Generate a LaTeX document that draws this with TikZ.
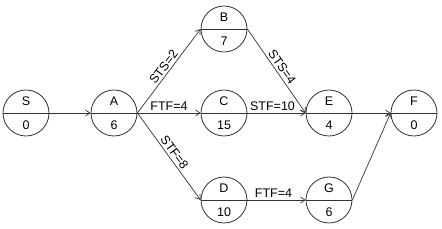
\documentclass[tikz,border=0pt]{standalone}
\usepackage{fontspec}
\setmainfont{Liberation Sans}
\usetikzlibrary{arrows.meta}
\definecolor{ln}{HTML}{333333}
\begin{document}
\begin{tikzpicture}[x=1pt,y=-1pt,
  ev/.style={circle,draw=ln,line width=0.8pt,minimum size=46pt,inner sep=0pt},
  txt/.style={font=\fontsize{12.5}{14}\selectfont,text=black,inner sep=0pt},
  dep/.style={draw=ln,line width=0.7pt,-{Straight Barb[length=4.5pt,width=6pt]}},
  lab/.style={font=\fontsize{12.5}{14}\selectfont,text=black,inner sep=2pt,midway,above}]
\useasboundingbox (0,0) rectangle (442,229);
\foreach \n/\x/\y/\t/\d in {S/26/113/S/0, A/114/113/A/6, B/224/29/B/7, C/224/113/C/15,
  D/224/200/D/10, E/329/113/E/4, G/329/200/G/6, F/414/113/F/0}{
  \node[ev] (\n) at (\x,\y) {};
  \draw[ln,line width=0.8pt] (\n.west) -- (\n.east);
  \node[txt] (\n t) at ([yshift=11.5pt]\n.center) {\t};
  \node[txt] (\n d) at ([yshift=-12.5pt]\n.center) {\d};
}
\draw[dep] (S.east) -- (A.west);
\draw[dep] (A.east) -- node[lab,sloped] {STS=2} (B.west);
\draw[dep] (A.east) -- node[lab] {FTF=4} (C.west);
\draw[dep] (A.east) -- node[lab,sloped] {STF=8} (D.west);
\draw[dep] (B.east) -- node[lab,sloped] {STS=4} (E.west);
\draw[dep] (C.east) -- node[lab,xshift=-4pt] {STF=10} (E.west);
\draw[dep] (D.east) -- node[lab,xshift=-3pt] {FTF=4} (G.west);
\draw[dep] (E.east) -- (F.west);
\draw[dep] (G.east) -- (F.west);
\end{tikzpicture}
\end{document}
